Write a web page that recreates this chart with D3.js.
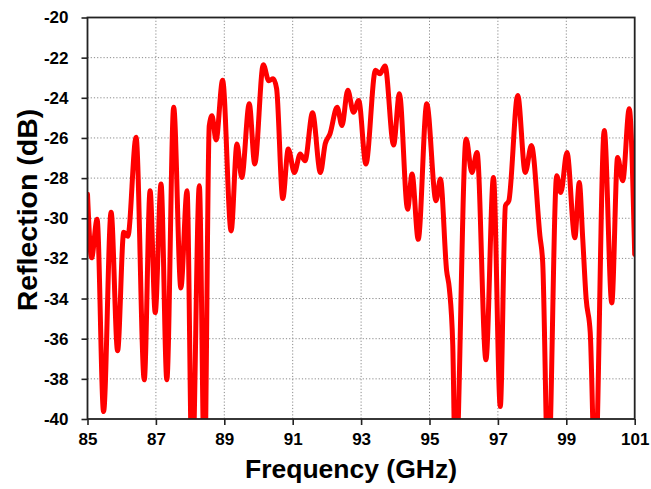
<!DOCTYPE html>
<html>
<head>
<meta charset="utf-8">
<script src="https://cdn.jsdelivr.net/npm/d3@7"></script>
<style>
html, body { margin: 0; padding: 0; background: #fff; }
svg text { font-family: "Liberation Sans", Arial, sans-serif; font-weight: bold; fill: #000; }
</style>
</head>
<body>
<svg id="chart" width="651" height="489"></svg>
<script>
// ---- data ----
const frequency = [
  85.00, 85.12, 85.28, 85.47, 85.69, 85.88, 86.06, 86.18, 86.42, 86.66,
  86.83, 86.98, 87.15, 87.32, 87.52, 87.73, 87.91, 88.06, 88.27, 88.42,
  88.56, 88.64, 88.76, 88.95, 89.20, 89.37, 89.51, 89.73, 89.89, 90.14,
  90.30, 90.43, 90.53, 90.71, 90.87, 91.05, 91.22, 91.36, 91.58, 91.81,
  91.95, 92.09, 92.30, 92.44, 92.61, 92.78, 92.93, 93.14, 93.42, 93.55,
  93.70, 93.95, 94.12, 94.36, 94.49, 94.67, 94.92, 95.19, 95.32, 95.50,
  95.58, 95.68, 95.76, 96.07, 96.24, 96.39, 96.65, 96.87, 97.07, 97.22,
  97.32, 97.58, 97.80, 97.98, 98.23, 98.31, 98.47, 98.72, 98.84, 99.02,
  99.25, 99.38, 99.48, 99.58, 99.70, 99.84, 100.11, 100.33, 100.50, 100.65,
  100.84, 101.00
];
const reflection = [
  -28.8, -31.97, -30.05, -39.63, -29.7, -36.6, -30.7, -30.9, -25.97, -38.05,
  -28.63, -34.7, -28.3, -38.05, -24.47, -33.47, -28.63, -43, -28.38, -43,
  -25.4, -24.9, -26.1, -23.13, -30.63, -26.3, -27.97, -24.3, -27.3, -22.35,
  -23.15, -23.05, -23.55, -29.02, -26.55, -27.72, -26.8, -27.13, -24.75, -27.72,
  -26.3, -25.8, -24.47, -25.38, -23.63, -24.72, -24.13, -27.3, -22.63, -22.8,
  -22.42, -26.35, -23.8, -29.55, -27.8, -31.05, -24.3, -29.13, -28.05, -32.6,
  -33.5, -36.3, -43, -26.05, -27.72, -26.72, -37.05, -27.97, -39.38, -29.38,
  -29.13, -23.88, -27.72, -26.38, -30.9, -32.2, -43, -27.88, -28.72, -26.72,
  -30.97, -28.22, -31.0, -34.0, -35.7, -43, -25.63, -34.22, -26.97, -28.13,
  -24.55, -31.8
];
const xTicks = [85, 87, 89, 91, 93, 95, 97, 99, 101];
const yTicks = [-40, -38, -36, -34, -32, -30, -28, -26, -24, -22, -20];
const xLabel = "Frequency (GHz)";
const yLabel = "Reflection (dB)";

// ---- layout ----
const W = 651, H = 489;
const m = { left: 87.5, right: 16.3, top: 17.5, bottom: 70 };
const iw = W - m.left - m.right, ih = H - m.top - m.bottom;

const svg = d3.select("#chart");
const g = svg.append("g").attr("transform", `translate(${m.left},${m.top})`);

const x = d3.scaleLinear().domain([85, 101]).range([0, iw]);
const y = d3.scaleLinear().domain([-40, -20]).range([ih, 0]);

// grid
g.append("g").selectAll("line").data(xTicks.slice(1, -1)).join("line")
  .attr("x1", d => x(d)).attr("x2", d => x(d)).attr("y1", 0).attr("y2", ih)
  .attr("stroke", "#8a8a8a").attr("stroke-width", 1).attr("stroke-dasharray", "1.2,2");
g.append("g").selectAll("line").data(yTicks.slice(1, -1)).join("line")
  .attr("y1", d => y(d)).attr("y2", d => y(d)).attr("x1", 0).attr("x2", iw)
  .attr("stroke", "#8a8a8a").attr("stroke-width", 1).attr("stroke-dasharray", "1.2,2");

// clip
svg.append("defs").append("clipPath").attr("id", "clip")
  .append("rect").attr("x", 0).attr("y", 0).attr("width", iw).attr("height", ih);

const pts = frequency.map((f, i) => [f, reflection[i]]);
const line = d3.line().x(d => x(d[0])).y(d => y(d[1])).curve(d3.curveMonotoneX);
g.append("path").datum(pts)
  .attr("clip-path", "url(#clip)")
  .attr("d", line)
  .attr("fill", "none").attr("stroke", "#ff0000")
  .attr("stroke-width", 5).attr("stroke-linejoin", "round").attr("stroke-linecap", "round");

// axes
const fmt = d => String(d);
const xAxis = d3.axisBottom(x).tickValues(xTicks).tickSize(6).tickPadding(5).tickFormat(fmt);
const yAxis = d3.axisLeft(y).tickValues(yTicks).tickSize(6).tickPadding(5).tickFormat(fmt);
const gx = g.append("g").attr("transform", `translate(0,${ih})`).call(xAxis);
const gy = g.append("g").call(yAxis);
[gx, gy].forEach(a => {
  a.select(".domain").remove();
  a.selectAll(".tick line").attr("stroke", "#222").attr("stroke-width", 1.6);
  a.selectAll(".tick text").attr("font-size", 17).attr("fill", "#000")
    .style("font-family", "'Liberation Sans', Arial, sans-serif").style("font-weight", "bold");
});
gx.selectAll(".tick text").attr("dy", "0.9em");
gy.selectAll(".tick text").attr("dx", "-8");

// frame
g.append("rect").attr("x", 0).attr("y", 0).attr("width", iw).attr("height", ih)
  .attr("fill", "none").attr("stroke", "#222").attr("stroke-width", 1.8);

// titles
svg.append("text").attr("x", 351).attr("y", 478)
  .attr("text-anchor", "middle").attr("font-size", 26.5).text(xLabel);
svg.append("text").attr("transform", `translate(37,210) rotate(-90)`)
  .attr("text-anchor", "middle").attr("font-size", 28.5).text(yLabel);
</script>
</body>
</html>
